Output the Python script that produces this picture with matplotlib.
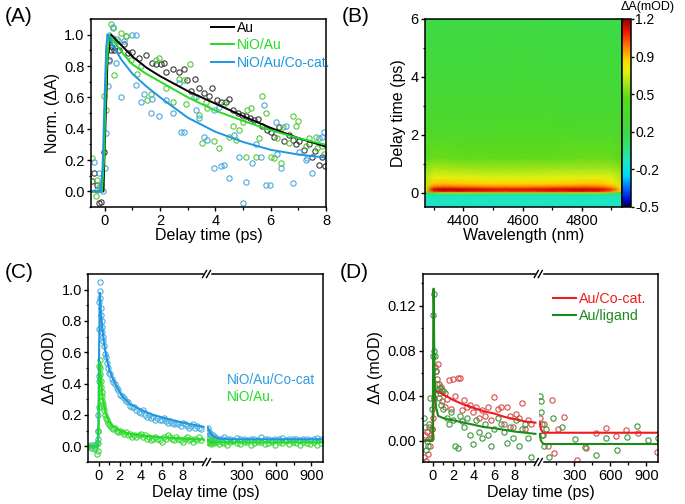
import matplotlib
matplotlib.use('Agg')
import matplotlib.pyplot as plt
import numpy as np
from matplotlib.colors import LinearSegmentedColormap
from matplotlib.ticker import MultipleLocator, FixedLocator, FormatStrFormatter
from matplotlib.lines import Line2D

plt.rcParams['font.family'] = ['Liberation Sans', 'DejaVu Sans']
plt.rcParams['axes.linewidth'] = 1.1
plt.rcParams['xtick.major.width'] = 1.0
plt.rcParams['ytick.major.width'] = 1.0
plt.rcParams['xtick.minor.width'] = 0.9
plt.rcParams['ytick.minor.width'] = 0.9
plt.rcParams['xtick.major.size'] = 3.2
plt.rcParams['ytick.major.size'] = 3.2
plt.rcParams['xtick.minor.size'] = 1.8
plt.rcParams['ytick.minor.size'] = 1.8
plt.rcParams['xtick.major.pad'] = 1.5
plt.rcParams['ytick.major.pad'] = 1.5
plt.rcParams['xtick.labelsize'] = 10.5
plt.rcParams['ytick.labelsize'] = 10.5

# ------------------ data: panel A (normalized kinetics) ------------------ #
a_au_t = [-0.47,-0.39,-0.27,-0.20,-0.14,-0.03,0.15,0.21,0.27,0.34,0.52,0.70,0.85,1.0,1.24,1.48,1.72,1.84,
          2.03,2.15,2.21,2.45,2.69,2.85,2.99,3.11,3.25,3.41,3.59,3.75,3.89,4.07,4.19,4.38,4.50,4.62,4.80,
          4.95,5.10,5.25,5.40,5.55,5.70,5.88,6.0,6.12,6.30,6.49,6.65,6.79,6.91,7.03,7.21,7.38,7.51,7.62,
          7.75,7.87,7.95]
a_au_v = [0.063,0.12,0.043,-0.074,-0.07,0.25,0.84,0.90,0.92,0.90,0.90,0.94,0.88,0.89,0.85,0.87,0.82,0.81,
          0.81,0.82,0.76,0.78,0.76,0.78,0.71,0.64,0.72,0.66,0.63,0.61,0.66,0.58,0.57,0.57,0.59,0.52,0.50,
          0.49,0.48,0.47,0.455,0.46,0.42,0.39,0.38,0.35,0.41,0.32,0.36,0.33,0.30,0.32,0.265,0.30,0.22,0.26,
          0.17,0.22,0.16]
a_nio_t = [-0.47,-0.33,-0.27,-0.20,-0.03,0.04,0.22,0.28,0.34,0.45,0.58,0.76,0.78,0.94,1.18,1.30,1.54,1.66,
           1.84,1.96,2.20,2.45,2.69,2.87,2.93,3.09,3.29,3.41,3.53,3.65,3.71,3.96,4.13,4.30,4.50,4.62,4.74,
           4.86,4.98,5.10,5.16,5.28,5.46,5.58,5.70,5.82,6.0,6.12,6.24,6.37,6.43,6.67,6.79,6.91,6.97,7.27,
           7.39,7.63,7.69,7.87,7.93]
a_nio_v = [0.21,-0.03,0.074,0.03,0.61,0.52,1.07,1.04,0.74,0.97,1.01,0.99,0.99,0.84,0.75,0.80,0.58,0.62,
           0.84,0.85,0.66,0.57,0.72,0.71,0.56,0.81,0.60,0.49,0.31,0.57,0.53,0.32,0.275,0.56,0.35,0.42,0.33,
           0.39,0.44,0.22,0.52,0.53,0.22,0.34,0.61,0.50,0.22,0.21,0.34,0.18,0.41,0.31,0.48,0.42,0.45,0.29,
           0.34,0.35,0.275,0.29,0.24]
a_co_t = [-0.39,-0.30,-0.20,-0.14,-0.08,0.01,0.06,0.10,0.16,0.16,0.28,0.30,0.34,0.40,0.46,0.58,0.70,1.0,
          1.12,1.12,1.30,1.42,1.66,1.72,1.96,2.21,2.45,2.69,2.75,2.87,3.23,3.29,3.41,3.59,3.71,3.95,3.96,
          4.13,4.20,4.31,4.50,4.68,4.86,4.98,5.10,5.34,5.46,5.64,5.76,5.82,5.97,6.18,6.24,6.37,6.55,6.79,
          7.03,7.27,7.33,7.51,7.75,7.87,7.93]
a_co_v = [0.19,0.01,0.12,0.04,0.0,0.15,0.37,0.67,0.83,1.0,0.98,1.05,0.94,0.82,0.96,0.60,0.96,1.0,
          1.0,0.68,0.57,0.62,0.50,0.59,0.48,0.58,0.50,0.69,0.38,0.38,0.60,0.52,0.47,0.35,0.33,0.15,0.52,
          0.54,0.16,0.17,0.085,0.36,0.22,-0.074,0.06,0.18,0.30,0.22,0.55,0.042,0.042,0.44,0.24,0.15,0.42,0.05,
          0.25,0.20,0.21,0.116,0.34,0.35,0.38]
# fitted curves
a_au_fit_t = [-0.5,-0.05,0.0,0.1,0.22,0.5,1,1.5,2,3,4,5,6,7,8]
a_au_fit_v = [0,0,0.3,0.85,1.0,0.95,0.86,0.79,0.735,0.64,0.56,0.48,0.405,0.34,0.285]
a_nio_fit_t = [-0.5,-0.1,-0.03,0.05,0.15,0.4,0.7,1,1.5,2,3,4,5,6,7,8]
a_nio_fit_v = [0,0,0.2,0.75,1.0,0.94,0.87,0.81,0.75,0.70,0.60,0.515,0.45,0.39,0.34,0.297]
a_co_fit_t = [-0.5,-0.15,-0.08,0.0,0.05,0.1,0.3,0.6,1,1.5,2,3,4,5,6,7,8]
a_co_fit_v = [0,0,0.15,0.65,0.92,1.0,0.93,0.84,0.75,0.67,0.60,0.47,0.38,0.315,0.265,0.235,0.215]

# ------------------ data: panel B (2D map) ------------------ #
b_wl = [4270, 4300, 4330, 4400, 4500, 4600, 4700, 4800, 4860, 4900, 4935]
b_delay = [-0.5, -0.15, -0.05, 0.0, 0.05, 0.1, 0.15, 0.2, 0.3, 0.5, 0.8, 1.2, 2.0, 3.0, 4.0, 5.0, 6.0]
b_map = [
    [-0.09,-0.09,-0.09,-0.09,-0.09,-0.09,-0.09,-0.09,-0.09,-0.09,-0.09],
    [-0.08,-0.08,-0.08,-0.08,-0.08,-0.08,-0.08,-0.08,-0.08,-0.08,-0.08],
    [-0.02, 0.00, 0.02, 0.02, 0.01, 0.01, 0.01, 0.02, 0.02, 0.01,-0.02],
    [ 0.30, 0.55, 0.65, 0.65, 0.60, 0.60, 0.60, 0.65, 0.65, 0.55, 0.30],
    [ 0.65, 1.05, 1.10, 1.10, 1.05, 1.05, 1.07, 1.10, 1.08, 0.95, 0.70],
    [ 0.75, 1.15, 1.18, 1.16, 1.12, 1.12, 1.13, 1.16, 1.13, 1.05, 0.80],
    [ 0.72, 1.10, 1.12, 1.10, 1.06, 1.06, 1.08, 1.10, 1.08, 1.00, 0.77],
    [ 0.68, 0.98, 1.00, 0.98, 0.95, 0.95, 0.97, 0.99, 0.98, 0.92, 0.72],
    [ 0.66, 0.86, 0.87, 0.85, 0.83, 0.83, 0.84, 0.86, 0.86, 0.82, 0.68],
    [ 0.64, 0.74, 0.74, 0.73, 0.71, 0.71, 0.72, 0.73, 0.73, 0.72, 0.64],
    [ 0.58, 0.64, 0.63, 0.62, 0.61, 0.61, 0.62, 0.62, 0.62, 0.62, 0.58],
    [ 0.48, 0.52, 0.51, 0.50, 0.50, 0.50, 0.50, 0.51, 0.51, 0.51, 0.48],
    [ 0.37, 0.38, 0.38, 0.38, 0.38, 0.39, 0.39, 0.38, 0.38, 0.38, 0.36],
    [ 0.29, 0.30, 0.30, 0.30, 0.30, 0.31, 0.30, 0.29, 0.29, 0.29, 0.28],
    [ 0.24, 0.25, 0.25, 0.25, 0.25, 0.26, 0.25, 0.24, 0.24, 0.24, 0.23],
    [ 0.20, 0.21, 0.21, 0.21, 0.22, 0.22, 0.21, 0.20, 0.20, 0.20, 0.19],
    [ 0.17, 0.18, 0.18, 0.19, 0.19, 0.19, 0.18, 0.17, 0.17, 0.17, 0.16],
]
cbar_ticks = [-0.5, -0.16, 0.18, 0.52, 0.86, 1.2]
cbar_labels = ['-0.5', '-0.2', '0.2', '0.5', '0.9', '1.2']

# ------------------ data: panel C ------------------ #
c_t = [-0.9,-0.7,-0.5,-0.35,-0.2,-0.12,-0.08,-0.04,0.0,0.03,0.06,0.09,0.12,0.15,0.18,0.22,0.26,0.3,0.35,
       0.4,0.45,0.5,0.6,0.7,0.8,0.9,1.0,1.1,1.25,1.4,1.55,1.7,1.85,2.0,2.2,2.4,2.6,2.8,3.0,3.2,3.4,3.6,
       3.8,4.0,4.2,4.4,4.6,4.8,5.0,5.2,5.4,5.6,5.8,6.0,6.2,6.4,6.6,6.8,7.0,7.2,7.4,7.6,7.8,8.0,8.2,8.4,
       8.6,8.8,9.0,9.2,9.4,9.6,9.8]
c_co_v = [0.0,0.01,-0.01,0.0,0.02,0.05,0.1,0.2,0.45,0.75,0.92,1.05,0.99,0.95,0.88,0.84,0.80,0.76,0.73,
          0.70,0.67,0.64,0.59,0.57,0.53,0.50,0.47,0.46,0.43,0.41,0.40,0.37,0.36,0.33,0.32,0.31,0.29,0.28,
          0.26,0.25,0.25,0.23,0.22,0.21,0.23,0.20,0.19,0.20,0.18,0.19,0.17,0.18,0.17,0.17,0.18,0.16,0.15,
          0.16,0.15,0.14,0.15,0.14,0.13,0.15,0.14,0.13,0.12,0.13,0.14,0.12,0.13,0.12,0.11]
c_nio_v = [0.0,-0.01,0.01,-0.02,-0.05,-0.03,0.02,0.1,0.25,0.42,0.51,0.55,0.50,0.46,0.42,0.38,0.35,0.32,0.29,
           0.27,0.25,0.23,0.2,0.18,0.165,0.15,0.14,0.13,0.12,0.11,0.12,0.10,0.09,0.10,0.09,0.08,0.09,0.07,
           0.08,0.06,0.07,0.06,0.07,0.08,0.06,0.07,0.05,0.06,0.04,0.05,0.06,0.05,0.04,0.03,0.06,0.05,0.07,
           0.06,0.05,0.04,0.06,0.05,0.04,0.03,0.05,0.06,0.04,0.05,0.03,0.05,0.04,0.06,0.04]
c_t2 = [12,15,20,25,30,40,50,60,75,90,110,130,150,175,200,230,260,290,320,350,380,410,440,470,500,530,
        560,590,620,650,680,710,740,770,800,830,860,890,920,950,980]
c_co_v2 = [0.12,0.10,0.09,0.08,0.075,0.065,0.07,0.055,0.06,0.05,0.045,0.05,0.06,0.045,0.05,0.04,0.055,
           0.045,0.05,0.04,0.05,0.045,0.04,0.06,0.05,0.045,0.04,0.05,0.045,0.055,0.04,0.05,0.045,0.05,0.04,
           0.05,0.045,0.04,0.05,0.055,0.045]
c_nio_v2 = [0.045,0.03,0.02,0.035,0.025,0.015,0.03,0.02,0.035,0.025,0.015,0.03,0.02,0.01,0.025,0.035,0.02,
            0.015,0.03,0.025,0.01,0.02,0.03,0.025,0.015,0.02,0.03,0.01,0.025,0.02,0.035,0.015,0.025,0.02,
            0.01,0.03,0.02,0.015,0.025,0.01,0.02]
c_fit_t = [-1,-0.1,-0.03,0.03,0.1,0.2,0.35,0.5,0.7,1.0,1.35,1.8,2.3,3,4,5,6,7,8,9,10]
c_co_fit = [0,0,0.15,0.6,0.98,0.86,0.75,0.66,0.58,0.49,0.43,0.37,0.315,0.27,0.235,0.205,0.185,0.168,
            0.152,0.138,0.125]
c_nio_fit = [0,0,0.08,0.33,0.54,0.43,0.32,0.26,0.2,0.155,0.13,0.108,0.092,0.08,0.07,0.063,0.058,0.053,
             0.049,0.046,0.043]
c_co_fit_t2 = [10,20,40,70,100,150,250,1000]
c_co_fit2 = [0.12,0.1,0.075,0.058,0.05,0.046,0.045,0.045]
c_nio_fit_t2 = [10,20,40,70,1000]
c_nio_fit2 = [0.043,0.035,0.028,0.025,0.025]

# ------------------ data: panel D ------------------ #
d_red_t = [-0.9,-0.8,-0.7,-0.6,-0.5,-0.4,-0.3,-0.2,-0.1,0.0,0.1,0.2,0.3,0.4,0.5,0.6,0.7,0.8,0.9,1.0,1.2,
           1.4,1.6,1.8,2.0,2.2,2.4,2.6,2.8,3.0,3.3,3.6,3.9,4.2,4.5,4.8,5.1,5.4,5.7,6.0,6.3,6.6,6.9,7.2,
           7.5,7.8,8.1,8.4,8.7,9.0,9.3,9.6]
d_red_v = [-0.015,0.005,-0.018,0.008,-0.012,0.012,-0.005,0.005,0.01,0.02,0.038,0.065,0.062,0.055,0.068,
           0.05,0.042,0.048,0.035,0.044,0.03,0.037,0.054,0.028,0.055,0.04,0.056,0.056,0.027,0.036,0.03,
           0.032,0.025,0.03,0.02,0.027,0.022,0.03,0.018,0.039,0.028,0.03,0.015,0.03,0.022,0.012,0.024,
           0.02,0.033,0.01,0.018,0.015]
d_grn_t = [-0.9,-0.8,-0.7,-0.6,-0.5,-0.4,-0.3,-0.2,-0.1,-0.05,0.0,0.05,0.1,0.15,0.2,0.3,0.4,0.5,0.6,0.7,
           0.8,0.9,1.0,1.2,1.4,1.6,1.8,2.0,2.2,2.4,2.6,2.8,3.0,3.3,3.6,3.9,4.2,4.5,4.8,5.1,5.4,5.7,6.0,
           6.3,6.6,6.9,7.2,7.5,7.8,8.1,8.4,8.7,9.0,9.3,9.6]
d_grn_v = [0.02,0.012,-0.008,0.0,-0.005,0.015,0.038,0.002,0.028,0.01,0.075,0.112,0.13,0.08,0.075,0.062,
           0.05,0.045,0.038,0.047,0.032,0.045,0.028,0.042,0.02,0.015,0.025,0.018,-0.005,-0.007,0.022,0.017,
           0.012,0.02,0.005,-0.003,0.018,0.008,0.002,0.015,0.005,-0.005,0.01,0.02,0.015,0.008,-0.002,0.012,
           0.002,0.018,-0.005,0.01,0.015,0.002,-0.015]
d_red_t2 = [15,30,50,80,110,130,160,213,318,396,480,560,650,730,830,985]
d_red_v2 = [0.02,0.005,0.015,-0.005,0.036,-0.011,0.01,0.021,-0.017,-0.007,0.007,0.011,0.004,0.0095,0.007,
            -0.01]
d_grn_t2 = [12,18,22,28,35,45,60,90,124,200,305,388,480,563,653,741,825,917,995]
d_grn_v2 = [0.04,0.035,0.025,0.015,0.005,-0.005,0.01,-0.015,0.02,0.012,0.0015,-0.006,-0.013,0.0027,-0.008,
            0.0036,0.013,0.0006,0.002]
d_red_fit_t = [-1,-0.05,0.0,0.08,0.15,1,2,3,4,5,6,7,8,9,10]
d_red_fit = [0,0,0.01,0.035,0.045,0.041,0.036,0.032,0.029,0.026,0.024,0.021,0.019,0.017,0.016]
d_grn_fit_t = [-1,-0.05,-0.01,0.03,0.06,0.09,0.13,0.2,0.3,0.5,1,2,3,4,5,6,7,8,9,10]
d_grn_fit = [0,0,0.03,0.1,0.135,0.12,0.075,0.042,0.03,0.022,0.02,0.018,0.016,0.014,0.012,0.011,0.0095,
             0.008,0.007,0.006]
d_red_fit_t2 = [10,20,40,1000]
d_red_fit2 = [0.016,0.01,0.007,0.007]
d_grn_fit_t2 = [10,20,40,1000]
d_grn_fit2 = [0.006,0.0,-0.003,-0.003]

# ------------------ figure ------------------ #
W, H = 685, 504
fig = plt.figure(figsize=(W/100, H/100), dpi=100)

def fr(x0, y0, x1, y1):
    # pixel box -> figure fraction [left, bottom, width, height]
    return [x0/W, 1-y1/H, (x1-x0)/W, (y1-y0)/H]

mk = dict(ls='none', marker='o', mfc='none', ms=3.8, mew=0.8)

# Panel A
axA = fig.add_axes(fr(91, 19, 326, 207))
axA.plot(a_au_t, a_au_v, mec='#3a3a3a', **mk)
axA.plot(a_nio_t, a_nio_v, mec='#55c83c', **mk)
axA.plot(a_co_t, a_co_v, mec='#4ea8dc', **mk)
axA.plot(a_au_fit_t, a_au_fit_v, c='k', lw=1.4, label='Au')
axA.plot(a_nio_fit_t, a_nio_fit_v, c='#22dd22', lw=1.4, label='NiO/Au')
axA.plot(a_co_fit_t, a_co_fit_v, c='#1e96e0', lw=1.4, label='NiO/Au/Co-cat.')
axA.set(xlim=(-0.5, 8), ylim=(-0.1, 1.1))
axA.xaxis.set_major_locator(MultipleLocator(2))
axA.xaxis.set_minor_locator(MultipleLocator(1))
axA.yaxis.set_major_locator(MultipleLocator(0.2))
axA.yaxis.set_minor_locator(MultipleLocator(0.1))
axA.yaxis.set_major_formatter(FormatStrFormatter('%.1f'))
axA.set_xlabel('Delay time (ps)', fontsize=11.5, labelpad=0)
axA.set_ylabel('Norm. (\u0394A)', fontsize=11.5, labelpad=3)
axA.legend(loc='upper left', bbox_to_anchor=(0.51, 0.99), frameon=False, fontsize=10,
           labelcolor='linecolor', handlelength=1.65, handletextpad=0.2, labelspacing=0.25,
           borderpad=0, borderaxespad=0)

# Panel B
colors = [(0.00, (0.0, 0.0, 0.15)), (0.03, (0.0, 0.0, 0.8)), (0.09, (0.0, 0.35, 1.0)),
          (0.165, (0.0, 0.85, 1.0)), (0.235, (0.1, 0.9, 0.8)), (0.32, (0.2, 0.88, 0.45)),
          (0.41, (0.25, 0.85, 0.25)), (0.58, (0.35, 0.85, 0.1)), (0.66, (0.65, 0.9, 0.1)),
          (0.72, (0.9, 0.95, 0.05)), (0.78, (1.0, 0.85, 0.0)), (0.853, (1.0, 0.5, 0.0)),
          (0.93, (0.95, 0.1, 0.0)), (1.00, (0.6, 0.0, 0.0))]
cmap = LinearSegmentedColormap.from_list('origin', colors)
axB = fig.add_axes(fr(425, 19, 621.5, 207))
pcm = axB.pcolormesh(b_wl, b_delay, np.array(b_map), shading='gouraud', cmap=cmap, vmin=-0.5, vmax=1.2,
                     rasterized=True)
axB.set(xlim=(4270, 4935), ylim=(-0.5, 6))
axB.xaxis.set_major_locator(FixedLocator([4400, 4600, 4800]))
axB.xaxis.set_minor_locator(FixedLocator([4300, 4500, 4700, 4900]))
axB.yaxis.set_major_locator(MultipleLocator(2))
axB.yaxis.set_minor_locator(MultipleLocator(1))
axB.set_xlabel('Wavelength (nm)', fontsize=11.5, labelpad=0)
axB.set_ylabel('Delay time (ps)', fontsize=11.5, labelpad=3)
cax = fig.add_axes(fr(621.5, 19, 630.5, 207))
cb = fig.colorbar(pcm, cax=cax)
cb.set_ticks(cbar_ticks)
cb.set_ticklabels(cbar_labels)
cb.ax.tick_params(labelsize=10, length=2.5, pad=1)
cb.outline.set_linewidth(1.1)
fig.text(648/W, 1-7/H, '\u0394A(mOD)', fontsize=9, ha='center', va='center')

# broken-axis helper for panels C and D
def broken(x0, xb, x1, y0, y1, xl1, xl2):
    a1 = fig.add_axes(fr(x0, y0, xb, y1))
    a2 = fig.add_axes(fr(xb, y0, x1, y1), sharey=a1)
    a1.spines['right'].set_visible(False)
    a2.spines['left'].set_visible(False)
    a2.tick_params(axis='y', which='both', left=False, labelleft=False)
    a1.set_xlim(*xl1)
    a2.set_xlim(*xl2)
    a1.xaxis.set_major_locator(FixedLocator([0, 2, 4, 6, 8]))
    a1.xaxis.set_minor_locator(FixedLocator([1, 3, 5, 7, 9]))
    a2.xaxis.set_major_locator(FixedLocator([300, 600, 900]))
    a2.xaxis.set_minor_locator(FixedLocator([150, 450, 750]))
    for yp in (y0, y1):
        fig.add_artist(Line2D([(xb-2)/W, (xb+2)/W], [1-yp/H, 1-yp/H], color='white', lw=2.5))
        for dx in (-2.2, 1.8):
            fig.add_artist(Line2D([(xb+dx-2)/W, (xb+dx+2)/W], [1-(yp+3.5)/H, 1-(yp-3.5)/H],
                                  color='k', lw=1.0))
    fig.text((x0+x1)/2/W, 1-(y1+30)/H, 'Delay time (ps)', fontsize=11.5, ha='center', va='center')
    return a1, a2

# Panel C
c1, c2 = broken(88.3, 206.7, 323, 274, 462, (-1, 10.3), (0, 1000))
c1.plot(c_t, c_co_v, mec='#4fb0e0', **mk)
c1.plot(c_t, c_nio_v, mec='#3fd83f', **mk)
c2.plot(c_t2, c_co_v2, mec='#4fb0e0', **mk)
c2.plot(c_t2, c_nio_v2, mec='#3fd83f', **mk)
c1.plot(c_fit_t, c_co_fit, c='#1e96e0', lw=1.5)
c1.plot(c_fit_t, c_nio_fit, c='#22dd22', lw=1.5)
c2.plot(c_co_fit_t2, c_co_fit2, c='#1e96e0', lw=1.5)
c2.plot(c_nio_fit_t2, c_nio_fit2, c='#22dd22', lw=1.5)
c1.set_ylim(-0.1, 1.1)
c1.yaxis.set_major_locator(MultipleLocator(0.2))
c1.yaxis.set_minor_locator(MultipleLocator(0.1))
c1.yaxis.set_major_formatter(FormatStrFormatter('%.1f'))
c1.set_ylabel('\u0394A (mOD)', fontsize=11.5, labelpad=3)
c2.text(0.172, 0.436, 'NiO/Au/Co-cat', color='#2b9de0', fontsize=9.8, transform=c2.transAxes, va='center')
c2.text(0.172, 0.347, 'NiO/Au.', color='#22dd22', fontsize=9.8, transform=c2.transAxes, va='center')

# Panel D
d1, d2 = broken(422.7, 538.5, 658.3, 274, 462, (-1, 10.3), (0, 1000))
d1.plot(d_red_t, d_red_v, mec='#d94a4a', **mk)
d1.plot(d_grn_t, d_grn_v, mec='#3c963c', **mk)
d2.plot(d_red_t2, d_red_v2, mec='#d94a4a', **mk)
d2.plot(d_grn_t2, d_grn_v2, mec='#3c963c', **mk)
d1.plot(d_red_fit_t, d_red_fit, c='#ee1c1c', lw=1.5)
d1.plot(d_grn_fit_t, d_grn_fit, c='#1b8a1b', lw=1.5)
d2.plot(d_red_fit_t2, d_red_fit2, c='#ee1c1c', lw=1.5, label='Au/Co-cat.')
d2.plot(d_grn_fit_t2, d_grn_fit2, c='#1b8a1b', lw=1.5, label='Au/ligand')
d1.set_ylim(-0.019, 0.148)
d1.yaxis.set_major_locator(MultipleLocator(0.04))
d1.yaxis.set_minor_locator(MultipleLocator(0.02))
d1.yaxis.set_major_formatter(FormatStrFormatter('%.2f'))
d1.set_ylabel('\u0394A (mOD)', fontsize=11.5, labelpad=3)
d2.legend(loc='upper left', bbox_to_anchor=(0.12, 0.905), frameon=False, fontsize=10.3,
          labelcolor='linecolor', handlelength=1.65, handletextpad=0.15, labelspacing=0.25,
          borderpad=0, borderaxespad=0)

# panel letters
for x, y, s in [(5, 16, '(A)'), (342, 16, '(B)'), (5, 273, '(C)'), (340, 273, '(D)')]:
    fig.text(x/W, 1-y/H, s, fontsize=15, ha='left', va='center')

plt.savefig('out.png', dpi=100)
